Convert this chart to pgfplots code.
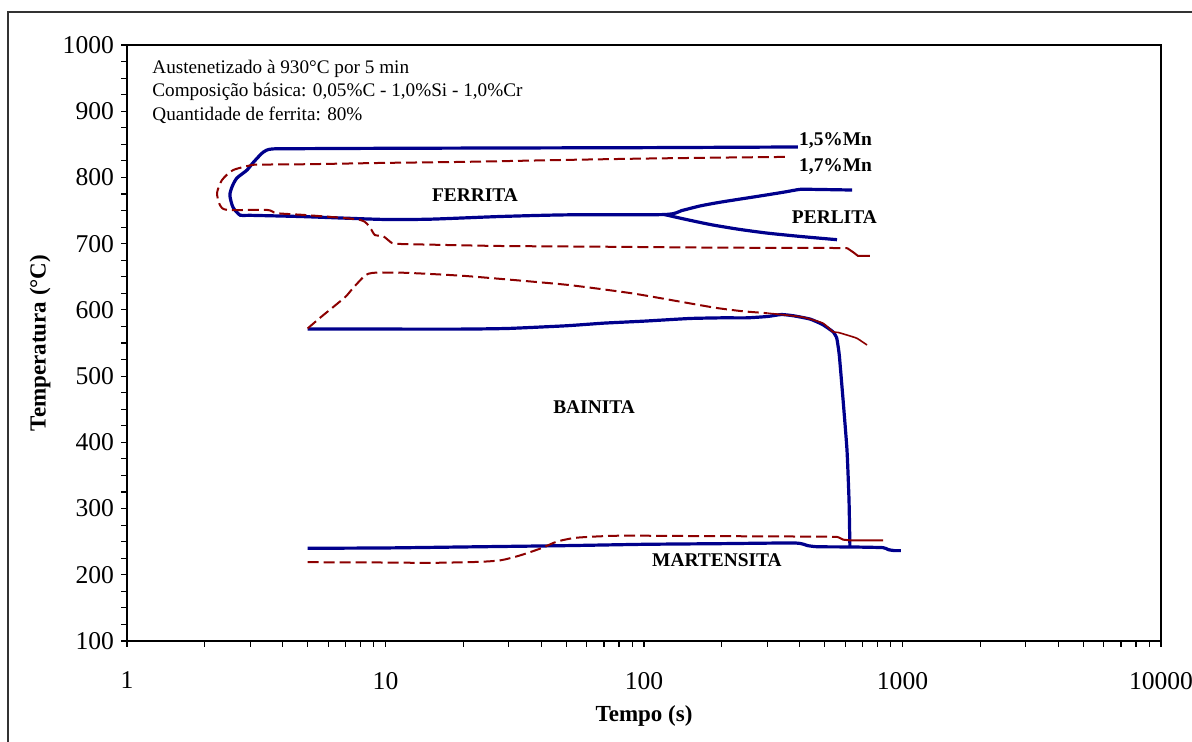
\documentclass[border=0pt]{standalone}
\usepackage{fontspec}
\setmainfont{Liberation Serif}
\usepackage{pgfplots}
\pgfplotsset{compat=1.18}
\definecolor{navyb}{RGB}{0,0,140}
\definecolor{dred}{RGB}{140,0,0}
\begin{document}
\begin{tikzpicture}
\useasboundingbox (0,0) rectangle (596pt,371pt);
\draw[line width=0.6pt, black!80] (4pt,-2pt) -- (4pt,365pt) -- (598pt,365pt);
\begin{axis}[
  at={(63.5pt,50.5pt)}, anchor=south west,
  scale only axis, width=517pt, height=298pt,
  xmode=log, log basis x=10,
  xmin=1, xmax=10000, ymin=100, ymax=1000,
  xtick={1,10,100,1000,10000}, xticklabels={1,10,100,1000,10000},
  minor xtick={2,3,4,5,6,7,8,9,20,30,40,50,60,70,80,90,200,300,400,500,600,700,800,900,2000,3000,4000,5000,6000,7000,8000,9000},
  ytick={100,200,...,1000}, minor y tick num=3,
  tick align=outside, tick pos=left,
  major tick length=3pt, minor tick length=3pt,
  every tick/.style={black, line width=0.6pt},
  axis line style={black, line width=0.9pt},
  /pgf/number format/assume math mode=true,
  /pgf/number format/1000 sep={},
  xticklabel style={font=\fontsize{12.8}{15}\selectfont, yshift=-9pt},
  yticklabel style={font=\fontsize{12.8}{15}\selectfont},
  clip=false,
]
% 1,5%Mn ferrite (blue)
\addplot[navyb, line width=1.6pt, smooth, tension=0.4] coordinates {
 (394,846) (200,845.5) (100,845) (30,844.5) (10,844) (5,843.5) (3.64,843)
 (3.36,838) (3.07,822) (2.91,811) (2.66,799) (2.55,786) (2.50,773) (2.57,755) (2.74,743)
 (3,742.8) (4.67,741) (7,738.5) (10.1,736.5) (15,737) (27.7,741) (50,743.5) (120,744)
 (140,750) (165,757) (200,763) (281,772) (350,778) (401,782) (450,782) (638,781)};
\addplot[navyb, line width=1.6pt, smooth, tension=0.4] coordinates {
 (120,744) (140,738) (180,729) (230,722) (299,716) (400,711) (558,706)};
% 1,7%Mn ferrite (red dashed)
\addplot[dred, line width=1pt, dash pattern=on 5.5pt off 2.5pt, smooth, tension=0.4] coordinates {
 (351,831) (200,830) (100,828.5) (50,826.5) (20,823.5) (10,822) (5,820) (3.5,819.5) (3.07,819)
 (2.57,811) (2.33,796) (2.23,776.5) (2.29,758) (2.44,751) (3.48,751) (3.80,746) (5,743)
 (7.97,736) (8.71,724) (9.1,713) (9.78,711.5) (10.6,701) (11.5,699.5) (15,698.5) (27.7,696.5) (69.4,695.4) (200,694) (610,693.4)};
\addplot[dred, line width=1pt] coordinates {
 (610,693.4) (643,687.4) (673,681.4) (748,681.4)};
% bainite blue
\addplot[navyb, line width=1.6pt, smooth, tension=0.3] coordinates {
 (5,571) (10,571) (20,571) (30,572) (50,576) (70,580) (100,583) (150,587) (200,588) (250,588)
 (300,590) (340,593) (380,591) (440,586) (490,578) (538,567) (556,558) (563,546) (570,530)
 (589,464) (610,388) (621,313) (626,242)};
% bainite red dashed
\addplot[dred, line width=1pt, dash pattern=on 5.5pt off 2.5pt, smooth, tension=0.3] coordinates {
 (5,572) (5.58,588) (6.97,619) (7.49,633) (8.33,652) (8.95,656) (12,656) (20.7,651) (50,638)
 (90,625) (140,612) (190,603) (240,598) (300,595)};
\addplot[dred, line width=0.8pt, smooth, tension=0.3] coordinates {
 (300,595) (340,593) (412,589) (492,580) (538,567) (563,566) (610,562) (667,557) (729,547)};
% martensite blue
\addplot[navyb, line width=1.6pt, smooth, tension=0.3] coordinates {
 (5,240) (10,240.5) (20,242) (50,244) (100,246) (200,247) (385,248) (430,244) (470,242.3)
 (626,242) (840,241) (880,238) (930,236.5) (986,236.5)};
% martensite red dashed
\addplot[dred, line width=1pt, dash pattern=on 5.5pt off 2.5pt, smooth, tension=0.4] coordinates {
 (5,219) (10,218.5) (15,218) (23,219.5) (28,222) (33,229) (40,240) (46,250) (55,256) (80,259)
 (150,258.5) (300,258) (500,257.5) (563,257)};
\addplot[dred, line width=1pt] coordinates {
 (563,257) (590,253) (626,252) (841,252)};
% labels
\node[font=\fontsize{9.7}{12}\selectfont\bfseries] at (axis cs:22.2,773.5) {FERRITA};
\node[font=\fontsize{9.7}{12}\selectfont\bfseries] at (axis cs:545,740.5) {PERLITA};
\node[font=\fontsize{9.7}{12}\selectfont\bfseries] at (axis cs:64.1,453) {BAINITA};
\node[font=\fontsize{9.7}{12}\selectfont\bfseries] at (axis cs:191.5,222) {MARTENSITA};
\node[font=\fontsize{9.7}{12}\selectfont\bfseries] at (axis cs:551,856) {1,5\%Mn};
\node[font=\fontsize{9.7}{12}\selectfont\bfseries] at (axis cs:551,816) {1,7\%Mn};
\node[font=\fontsize{9.6}{11}\selectfont, anchor=west, inner sep=0pt] at ([xshift=12.5pt,yshift=-12pt]rel axis cs:0,1) {Austenetizado à 930°C por 5 min};
\node[font=\fontsize{9.6}{11}\selectfont, anchor=west, inner sep=0pt] at ([xshift=12.5pt,yshift=-23.5pt]rel axis cs:0,1) {Composição básica: 0,05\%C - 1,0\%Si - 1,0\%Cr};
\node[font=\fontsize{9.6}{11}\selectfont, anchor=west, inner sep=0pt] at ([xshift=12.5pt,yshift=-35pt]rel axis cs:0,1) {Quantidade de ferrita: 80\%};
\node[font=\fontsize{11.5}{14}\selectfont\bfseries, rotate=90] at ([xshift=-43.5pt]rel axis cs:0,0.5) {Temperatura (°C)};
\node[font=\fontsize{11.5}{14}\selectfont\bfseries] at ([yshift=-37.5pt]rel axis cs:0.5,0) {Tempo (s)};
\end{axis}
\end{tikzpicture}
\end{document}
